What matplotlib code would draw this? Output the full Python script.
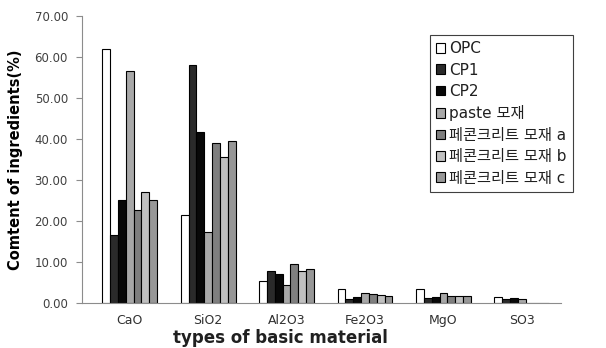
import matplotlib.pyplot as plt
import numpy as np

plt.rcParams['font.family'] = ['DejaVu Sans', 'Noto Sans CJK KR']

categories = ['CaO', 'SiO2', 'Al2O3', 'Fe2O3', 'MgO', 'SO3']
series_names = ['OPC', 'CP1', 'CP2', 'paste 모재',
                '페콘크리트 모재 a', '페콘크리트 모재 b', '페콘크리트 모재 c']

opc = [62.0, 21.4, 5.3, 3.5, 3.4, 1.6]
cp1 = [16.5, 58.0, 7.9, 1.1, 1.2, 1.05]
cp2 = [25.2, 41.6, 7.2, 1.5, 1.6, 1.3]
paste = [56.7, 17.3, 4.5, 2.4, 2.4, 1.0]
waste_a = [22.8, 39.0, 9.6, 2.3, 1.85, 0.0]
waste_b = [27.2, 35.7, 7.8, 1.9, 1.85, 0.0]
waste_c = [25.2, 39.5, 8.2, 1.7, 1.7, 0.0]

series = [opc, cp1, cp2, paste, waste_a, waste_b, waste_c]
colors = ['#ffffff', '#2a2a2a', '#080808', '#a8a8a8', '#7f7f7f', '#c0c0c0', '#979797']

fig = plt.figure(figsize=(6.06, 3.48), dpi=100)
ax = fig.add_axes([0.135, 0.129, 0.791, 0.825])

x = np.arange(len(categories))
w = 0.1
for i, (vals, name, c) in enumerate(zip(series, series_names, colors)):
    ax.bar(x + (i - 3) * w, vals, width=w, color=c, edgecolor='black',
           linewidth=0.8, label=name)

ax.set_xlim(-0.61, 5.5)
ax.set_ylim(0, 70)
ax.set_yticks(np.arange(0, 71, 10))
ax.set_yticklabels(['%.2f' % v for v in np.arange(0, 71, 10)])
ax.set_xticks(x)
ax.set_xticklabels(categories)

for s in ['top', 'right']:
    ax.spines[s].set_visible(False)
ax.spines['left'].set_color('#8c8c8c')
ax.spines['bottom'].set_color('#8c8c8c')
ax.tick_params(axis='y', length=4, color='#8c8c8c', labelsize=8.5,
               labelcolor='#404040', pad=6)
ax.tick_params(axis='x', length=0, labelsize=9, labelcolor='#303030', pad=8)

ax.set_ylabel('Comtent of ingredients(%)', fontsize=10.5, fontweight='bold',
              labelpad=8)
fig.text(0.463, 0.004, 'types of basic material', fontsize=12,
         fontweight='bold', ha='center', va='bottom', color='#202020')

leg = ax.legend(loc='upper left', bbox_to_anchor=(0.7096, 0.8994),
                bbox_transform=fig.transFigure, borderaxespad=0,
                fontsize=11, labelspacing=0.42, handlelength=0.6,
                handleheight=0.6, handletextpad=0.25, fancybox=False,
                framealpha=1, borderpad=0.4, labelcolor='#202020')
leg.get_frame().set_edgecolor('#404040')
leg.get_frame().set_linewidth(0.8)

fig.savefig('out.png', dpi=100)
